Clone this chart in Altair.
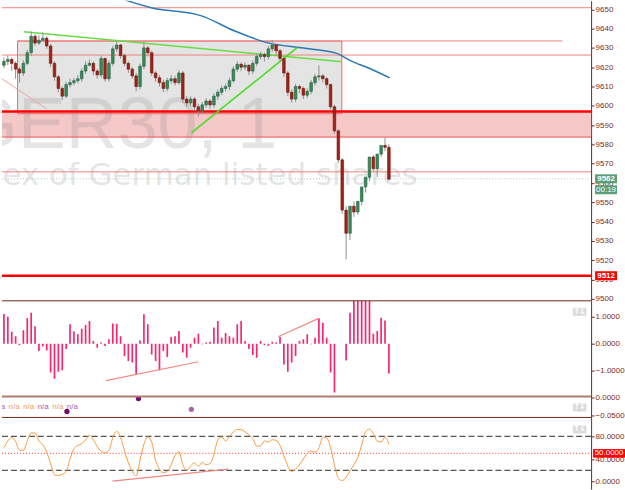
import altair as alt
import pandas as pd

# ---------------- data ----------------
opens = [9621, 9623, 9624, 9622, 9619, 9617, 9622, 9627.5, 9636, 9632.5,
         9634, 9635, 9631, 9622, 9615, 9609, 9605, 9611, 9612, 9613,
         9614, 9618, 9621, 9622, 9618, 9616, 9624.5, 9614, 9622, 9629.5,
         9631.5, 9626, 9622, 9619, 9615.5, 9610, 9620.5, 9630, 9627.5, 9617,
         9614.5, 9612, 9609, 9613, 9614, 9612, 9617, 9603.5, 9601.5, 9603.5,
         9599.5, 9597.5, 9600.5, 9602.5, 9600.5, 9605, 9607, 9609, 9610, 9613,
         9619, 9621.5, 9620, 9621, 9618, 9622, 9625.5, 9626.5, 9625.5, 9629.5,
         9631.5, 9628.5, 9624.5, 9617, 9607, 9603.5, 9610, 9609, 9605.5, 9607.5,
         9612, 9615, 9615.5, 9614, 9611, 9599.5, 9587, 9572, 9546, 9534,
         9548, 9545, 9550.5, 9558, 9563, 9573.5, 9567.5, 9575, 9579.5, 9578.5]
highs = [9625, 9626, 9625, 9623, 9620, 9623.5, 9629, 9638.5, 9637, 9636.5,
         9638, 9636, 9632, 9623, 9616, 9610, 9612.5, 9614, 9614.5, 9616,
         9619.5, 9623, 9624, 9623, 9619, 9626, 9625, 9623.5, 9631, 9633.5,
         9632, 9627, 9623, 9620, 9617, 9622, 9633, 9631, 9628.5, 9618,
         9616, 9613.5, 9614.5, 9616, 9615.5, 9618.5, 9618, 9605, 9605, 9604.5,
         9601, 9602, 9604, 9603.5, 9606.5, 9608.5, 9610.5, 9611.5, 9614.5, 9620.5,
         9623, 9622.5, 9622.5, 9621.5, 9623.5, 9627, 9628, 9627.5, 9631, 9634,
         9632, 9629.5, 9625.5, 9618, 9608.5, 9611.5, 9611, 9610, 9609, 9613.5,
         9616.5, 9621, 9616.5, 9615, 9611.5, 9600.5, 9588, 9573, 9548, 9538,
         9550.5, 9549, 9553, 9559.5, 9565, 9574.5, 9569, 9576.5, 9583.5, 9580]
lows = [9619.5, 9621, 9618, 9614, 9612, 9615.5, 9621, 9626, 9631, 9631.5,
        9633, 9629.5, 9620, 9613, 9607, 9603, 9604, 9609.5, 9610.5, 9611.5,
        9612.5, 9616.5, 9620.5, 9616, 9614, 9614.5, 9612.5, 9612.5, 9620.5, 9628,
        9624.5, 9620.5, 9617, 9614, 9607.5, 9608.5, 9619, 9625.5, 9615.5, 9612.5,
        9610, 9607, 9607.5, 9611.5, 9610.5, 9611, 9601.5, 9599.5, 9600, 9597.5,
        9594.5, 9596, 9599, 9598.5, 9599, 9603, 9605.5, 9607.5, 9608, 9612,
        9617.5, 9618, 9618.5, 9616, 9616.5, 9620.5, 9624, 9623, 9624, 9628,
        9626, 9622.5, 9615, 9605, 9601.5, 9602, 9606.5, 9603.5, 9604, 9606,
        9610.5, 9613, 9612, 9609, 9598, 9585.5, 9570.5, 9544, 9520.5, 9530.5,
        9542.5, 9543.5, 9548.5, 9555, 9561, 9566, 9563, 9573.5, 9576.5, 9561]
closes = [9623, 9624, 9622, 9619, 9617, 9622, 9627.5, 9636, 9632.5, 9634,
          9635, 9631, 9622, 9615, 9609, 9605, 9611, 9612, 9613, 9614,
          9618, 9621, 9622, 9618, 9616, 9624.5, 9614, 9622, 9629.5, 9631.5,
          9626, 9622, 9619, 9615.5, 9610, 9620.5, 9630, 9627.5, 9617, 9614.5,
          9612, 9609, 9613, 9614, 9612, 9617, 9603.5, 9601.5, 9603.5, 9599.5,
          9597.5, 9600.5, 9602.5, 9600.5, 9605, 9607, 9609, 9610, 9613, 9619,
          9621.5, 9620, 9621, 9618, 9622, 9625.5, 9626.5, 9625.5, 9629.5, 9631.5,
          9628.5, 9624.5, 9617, 9607, 9603.5, 9610, 9609, 9605.5, 9607.5, 9612,
          9615, 9615.5, 9614, 9611, 9599.5, 9587, 9572, 9546, 9534, 9548,
          9545, 9550.5, 9558, 9563, 9573.5, 9567.5, 9575, 9579.5, 9578.5, 9562]

hist_vals = [1.1, 1.0, 0.44, 0.28, -0.05, 0.5, 0.95, 1.15, 0.65, -0.27,
             -0.1, -0.25, -1.07, -1.3, -1.04, -0.99, -0.2, 0.72, 0.45, 0.35,
             0.55, 0.69, 0.84, 0.1, -0.15, 0.04, -0.09, 0.16, 0.75, 0.74,
             0.28, -0.46, -0.64, -0.7, -1.14, 0.12, 1.09, 0.72, -0.4, -0.64,
             -0.99, -0.27, -0.49, 0.25, 0.28, 0.47, -0.33, -0.52, -0.15, 0.22,
             0.37, -0.02, 0.04, 0.07, 0.6, 0.84, 0.22, 0.4, 0.28, 0.22,
             0.72, 0.84, 0.1, -0.2, -0.42, -0.52, 0.1, -0.05, -0.08, 0.07,
             0.04, 0.25, -0.77, -1.04, -0.7, -0.46, 0.1, 0.16, 0.35, -0.02,
             0.22, 0.94, 0.78, 0.22, -1.07, -1.81, None, None, -0.62, 1.15,
             2.0, 2.0, 2.0, 2.0, 2.0, 0.37, 0.47, 0.96, 0.86, -1.11]

osc_vals = [60, 72, 78, 71, 56, 55, 72, 86, 86, 72,
            65, 52, 32, 12, 11, 13, 18, 40, 58, 64,
            67, 74, 82, 74, 62, 54, 51, 55, 78, 89,
            78, 55, 33, 18, 10, 38, 66, 79, 70, 38,
            22, 16, 18, 30, 46, 53, 30, 20, 28, 33,
            27, 34, 30, 32, 48, 74, 79, 72, 80, 88,
            92, 92, 88, 83, 76, 63, 63, 72, 70, 74,
            73, 64, 46, 27, 18, 22, 30, 40, 50, 54,
            52, 60, 78, 77, 60, 30, 6, 2, 8, 19,
            30, 43, 65, 88, 93, 85, 72, 70, 79, 66]

# horizontal price levels
thin_levels = [9650.8, 9626.3, 9565.8]
thick_levels = [9597.0, 9512.0]
band_prices = [9597.0, 9583.8]
box_x = [3.5, 86.9]
box_p = [9595.9, 9633.5]
partial_level_x = [3.5, 143.6]
partial_level_p = 9633.6
current_price = 9562.2

upper_trend_x = [5.1, 86.9]
upper_trend_p = [9638.3, 9622.8]
rising_trend_x = [48.2, 75.4]
rising_trend_p = [9586.0, 9630.1]
red_diag_x = [-0.5, 11.0]
red_diag_p = [9614.0, 9598.4]
ma_x = [30.8, 37.9, 50.8, 59.2, 67.9, 76.4, 80.5, 85.9, 89.2, 93.6, 99.2]
ma_p = [9655.0, 9650.8, 9646.6, 9638.9, 9632.6, 9630.1, 9629.0, 9626.9, 9623.3, 9619.7, 9614.5]

hist_trend1_x = [26.2, 50.0]
hist_trend1_v = [-1.37, -0.67]
hist_trend2_x = [70.5, 80.8]
hist_trend2_v = [0.26, 0.93]

dot_x = [16.2, 34.6, 48.2]
dot_v = [-0.039, -0.0028, -0.033]
dot_c = ["#6b0f6b", "#6b0f6b", "#b060b0"]
na_labels = ["n/a", "n/a", "n/a", "n/a", "n/a", "n/a"]
na_colors = ["#b060b0", "#f0a050", "#f0a050", "#b060b0", "#f0a050", "#b060b0"]

osc_levels_dash = [80, 20]
osc_mid = 50
osc_trend_x = [27.9, 57.7]
osc_trend_v = [1, 22]

watermark_title = "GER30, 1"
watermark_sub = "Index of German listed shares"

# ---------------- chart ----------------
W = 591
XMIN, XMAX = -0.5, 151.0
xs = alt.Scale(domain=[XMIN, XMAX], nice=False, zero=False, padding=0)
BROWN = "#6b2a1a"
LABEL = "#7a2e1e"


def yaxis(values, fmt):
    return alt.Axis(orient="right", values=values, format=fmt, title=None, grid=False,
                    domainColor=BROWN, tickColor=BROWN, labelColor=LABEL,
                    labelFont="Liberation Sans", labelFontSize=8, tickSize=3,
                    labelPadding=1, labelOverlap=False)


ys_main = alt.Scale(domain=[9499.0, 9654.4], nice=False, zero=False)
main_axis = yaxis(list(range(9500, 9651, 10)), "d")
ys_h = alt.Scale(domain=[-1.96, 1.59], nice=False, zero=False)
h_axis = yaxis([-1, 0, 1], ".4f")
ys_d = alt.Scale(domain=[-0.0556, 0.0028], nice=False, zero=False)
d_axis = yaxis([0, -0.05], ".4f")
ys_o = alt.Scale(domain=[-13.4, 113.5], nice=False, zero=False)
o_axis = yaxis([0, 40, 80], ".4f")

df = pd.DataFrame({"i": list(range(len(closes))), "open": opens, "high": highs,
                   "low": lows, "close": closes})
df["dir"] = ["up" if c >= o else "down" for o, c in zip(opens, closes)]


def X(f):
    return alt.X(f, scale=xs, axis=None)


def YM(f):
    return alt.Y(f, scale=ys_main, axis=main_axis)


band = alt.Chart(pd.DataFrame({"x0": [XMIN], "x1": [XMAX], "p0": [band_prices[0]], "p1": [band_prices[1]]})).mark_rect(
    fill="#f5c8c8").encode(x=X("x0:Q"), x2="x1:Q", y=YM("p0:Q"), y2="p1:Q")

box = alt.Chart(pd.DataFrame({"x0": [box_x[0]], "x1": [box_x[1]], "p0": [box_p[0]], "p1": [box_p[1]]})).mark_rect(
    fill="#e4e4e4", stroke="#e86a6a", strokeWidth=1).encode(x=X("x0:Q"), x2="x1:Q", y=YM("p0:Q"), y2="p1:Q")

wm1 = alt.Chart(pd.DataFrame({"t": [watermark_title]})).mark_text(
    align="left", baseline="alphabetic", font="Liberation Sans", fontSize=72, color="#888888",
    opacity=0.22, clip=True).encode(text="t:N", x=alt.value(-40), y=alt.value(148))
wm2 = alt.Chart(pd.DataFrame({"t": [watermark_sub]})).mark_text(
    align="left", baseline="alphabetic", font="DejaVu Sans", fontSize=31, color="#888888",
    opacity=0.22, clip=True).encode(text="t:N", x=alt.value(-48), y=alt.value(185))

lev_thin = alt.Chart(pd.DataFrame({"p": thin_levels, "x0": XMIN, "x1": XMAX})).mark_rule(
    color="#ee8080", strokeWidth=1).encode(x=X("x0:Q"), x2="x1:Q", y=YM("p:Q"))
lev_part = alt.Chart(pd.DataFrame({"p": [partial_level_p], "x0": [partial_level_x[0]], "x1": [partial_level_x[1]]})).mark_rule(
    color="#ee8080", strokeWidth=1).encode(x=X("x0:Q"), x2="x1:Q", y=YM("p:Q"))
lev_band_bottom = alt.Chart(pd.DataFrame({"p": [band_prices[1]], "x0": XMIN, "x1": XMAX})).mark_rule(
    color="#f05050", strokeWidth=1).encode(x=X("x0:Q"), x2="x1:Q", y=YM("p:Q"))
lev_thick = alt.Chart(pd.DataFrame({"p": thick_levels, "x0": XMIN, "x1": XMAX})).mark_rule(
    color="#ff0000", strokeWidth=2.5).encode(x=X("x0:Q"), x2="x1:Q", y=YM("p:Q"))
lev_cur = alt.Chart(pd.DataFrame({"p": [current_price], "x0": XMIN, "x1": XMAX})).mark_rule(
    color="#a8c8b8", strokeWidth=1, strokeDash=[1, 2]).encode(x=X("x0:Q"), x2="x1:Q", y=YM("p:Q"))


def seg(xv, pv, color, width, scale, axis, clip=False):
    d = pd.DataFrame({"x": xv, "p": pv, "o": list(range(len(xv)))})
    return alt.Chart(d).mark_line(color=color, strokeWidth=width, clip=clip).encode(
        x=X("x:Q"), y=alt.Y("p:Q", scale=scale, axis=axis), order="o:Q")


tr_up = seg(upper_trend_x, upper_trend_p, "#66dd44", 1.5, ys_main, main_axis)
tr_rise = seg(rising_trend_x, rising_trend_p, "#44dd22", 1.5, ys_main, main_axis)
tr_red = seg(red_diag_x, red_diag_p, "#f0a0a0", 1, ys_main, main_axis, clip=True)
ma = alt.Chart(pd.DataFrame({"x": ma_x, "p": ma_p})).mark_line(
    color="#2a78b5", strokeWidth=1.5, interpolate="monotone", clip=True).encode(
    x=X("x:Q"), y=YM("p:Q"))

wick = alt.Chart(df).mark_rule(color="#909090", strokeWidth=1).encode(
    x=X("i:Q"), y=YM("low:Q"), y2="high:Q")
body = alt.Chart(df).mark_bar(width=2.6, strokeWidth=0.6).encode(
    x=X("i:Q"), y=YM("open:Q"), y2="close:Q",
    fill=alt.Fill("dir:N", scale=alt.Scale(domain=["up", "down"], range=["#3a8a5c", "#9c2418"]), legend=None),
    stroke=alt.Stroke("dir:N", scale=alt.Scale(domain=["up", "down"], range=["#1e5e38", "#70140c"]), legend=None))

BOX22 = "M-1,-0.41L1,-0.41L1,0.41L-1,0.41Z"
tag_df = pd.DataFrame({"p": [current_price, thick_levels[1]], "t": ["9562", "9512"],
                       "c": ["#5a9e7a", "#ff0000"]})
tags = alt.Chart(tag_df).mark_point(shape=BOX22, size=484, filled=True, opacity=1, strokeWidth=0).encode(
    x=alt.value(606), y=YM("p:Q"), color=alt.Color("c:N", scale=None))
tag_txt = alt.Chart(tag_df).mark_text(color="white", font="Liberation Sans", fontSize=8, fontWeight="bold").encode(
    x=alt.value(606), y=YM("p:Q"), text="t:N")
timer_df = pd.DataFrame({"p": [current_price], "t": ["00:19"]})
timer = alt.Chart(timer_df).mark_point(shape=BOX22, size=484, filled=True, opacity=1, strokeWidth=0,
                                       color="#5a9e7a").encode(x=alt.value(606), y=YM("p:Q"), yOffset=alt.value(11))
timer_txt = alt.Chart(timer_df).mark_text(color="white", font="Liberation Sans", fontSize=8, dy=11).encode(
    x=alt.value(606), y=YM("p:Q"), text="t:N")

main = alt.layer(band, box, wm1, wm2, lev_thin, lev_part, lev_band_bottom, lev_cur, lev_thick,
                 tr_red, ma, tr_up, tr_rise, wick, body, tags, tag_txt, timer, timer_txt).properties(
    width=W, height=301)


def pane_border(color, width):
    return alt.Chart(pd.DataFrame({"a": [0]})).mark_rule(color=color, strokeWidth=width).encode(
        x=alt.value(0), x2=alt.value(W), y=alt.value(0))


def buttons(ypix):
    d = pd.DataFrame({"t": ["\u2191", "\u2193"]})
    bx = alt.X("t:N", scale=alt.Scale(domain=["\u2191", "\u2193"], range=[574, 585]), axis=None)
    sq = alt.Chart(d).mark_point(shape="square", size=64, filled=True, color="#dcdcdc", opacity=1).encode(
        x=bx, y=alt.value(ypix))
    tx = alt.Chart(d).mark_text(color="white", fontSize=8, font="DejaVu Sans", fontWeight="bold").encode(
        x=bx, y=alt.value(ypix), text="t:N")
    return [sq, tx]


# histogram pane
hdf = pd.DataFrame({"i": list(range(len(hist_vals))), "v": hist_vals}).dropna()
hbars = alt.Chart(hdf).mark_bar(width=1.7, color="#f7266f", clip=True).encode(
    x=X("i:Q"), y=alt.Y("v:Q", scale=ys_h, axis=h_axis), y2=alt.datum(0))
ht1 = seg(hist_trend1_x, hist_trend1_v, "#f08a80", 1.2, ys_h, h_axis)
ht2 = seg(hist_trend2_x, hist_trend2_v, "#f08a80", 1.2, ys_h, h_axis)
hist = alt.layer(hbars, ht1, ht2, pane_border(BROWN, 1), *buttons(11)).properties(width=W, height=96)

# dots pane
ddf = pd.DataFrame({"x": dot_x, "v": dot_v, "c": dot_c})
dots_m = alt.Chart(ddf).mark_circle(size=28, opacity=1).encode(
    x=X("x:Q"), y=alt.Y("v:Q", scale=ys_d, axis=d_axis), color=alt.Color("c:N", scale=None))
na_layers = []
for k, (lab, col) in enumerate(zip(na_labels, na_colors)):
    na_layers.append(alt.Chart(pd.DataFrame({"t": [lab]})).mark_text(
        align="left", fontSize=8, font="Liberation Sans", color=col, clip=True).encode(
        text="t:N", x=alt.value(-8 + 14.6 * k), y=alt.value(11)))
dots = alt.layer(dots_m, *na_layers, pane_border("#b07a70", 2), *buttons(11)).properties(width=W, height=21)

# oscillator pane
odf = pd.DataFrame({"i": list(range(len(osc_vals))), "v": osc_vals})
o_dash = alt.Chart(pd.DataFrame({"v": osc_levels_dash, "x0": XMIN, "x1": XMAX})).mark_rule(
    color="#555555", strokeWidth=1.3, strokeDash=[6, 3]).encode(
    x=X("x0:Q"), x2="x1:Q", y=alt.Y("v:Q", scale=ys_o, axis=o_axis))
o_mid = alt.Chart(pd.DataFrame({"v": [osc_mid], "x0": XMIN, "x1": XMAX})).mark_rule(
    color="#ff5a5a", strokeWidth=1.2, strokeDash=[1, 2]).encode(
    x=X("x0:Q"), x2="x1:Q", y=alt.Y("v:Q", scale=ys_o, axis=o_axis))
o_line = alt.Chart(odf).mark_line(color="#f79a3c", strokeWidth=1, interpolate="monotone").encode(
    x=X("i:Q"), y=alt.Y("v:Q", scale=ys_o, axis=o_axis))
o_tr = seg(osc_trend_x, osc_trend_v, "#f08a80", 1.2, ys_o, o_axis)
BOX32 = "M-1,-0.27L1,-0.27L1,0.27L-1,0.27Z"
o_tag_df = pd.DataFrame({"v": [osc_mid], "t": ["50.0000"]})
o_tag = alt.Chart(o_tag_df).mark_point(shape=BOX32, size=1024, filled=True, opacity=1, strokeWidth=0,
                                       color="#ff0000").encode(x=alt.value(609), y=alt.Y("v:Q", scale=ys_o, axis=o_axis))
o_tag_t = alt.Chart(o_tag_df).mark_text(color="white", font="Liberation Sans", fontSize=8).encode(
    x=alt.value(609), y=alt.Y("v:Q", scale=ys_o, axis=o_axis), text="t:N")
osc = alt.layer(o_dash, o_mid, o_tr, o_line, pane_border(BROWN, 1), o_tag, o_tag_t, *buttons(12)).properties(
    width=W, height=72)

chart = alt.vconcat(main, hist, dots, osc, spacing=0).properties(
    padding=0, bounds="flush", background="white").configure_view(stroke=None)

chart.save("out.html", embed_options={"renderer": "svg", "actions": False})
